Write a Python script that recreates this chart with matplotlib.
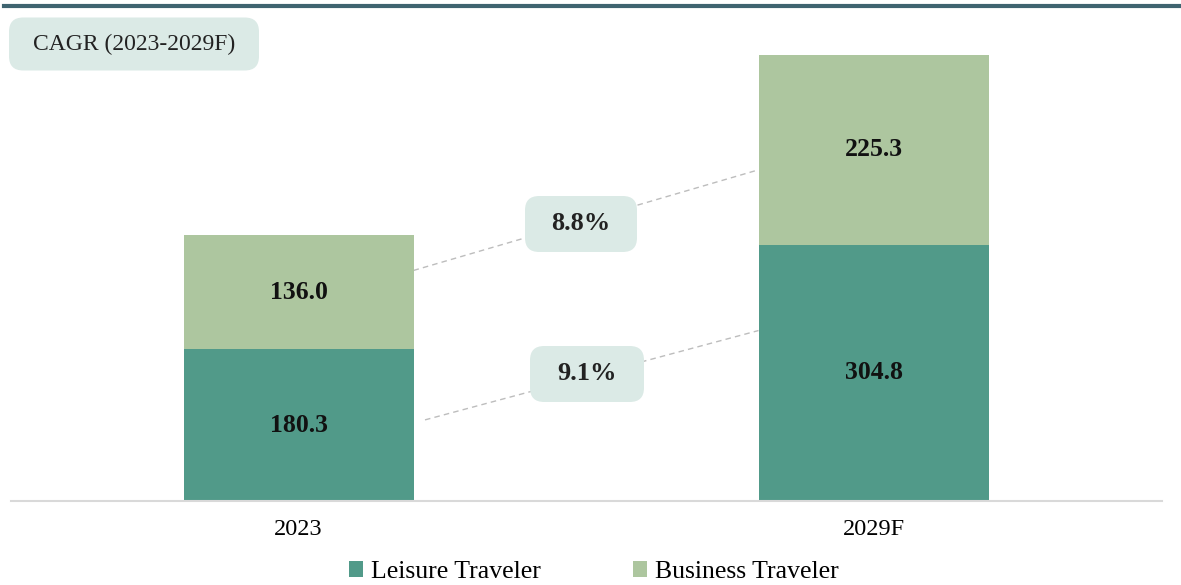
import matplotlib.pyplot as plt
from matplotlib.patches import FancyBboxPatch
from matplotlib.lines import Line2D

years = ["2023", "2029F"]
leisure = [180.3, 304.8]
business = [136.0, 225.3]
cagr_leisure = "9.1%"
cagr_business = "8.8%"

c_leisure = "#519a89"
c_business = "#adc69f"
c_box = "#dbeae6"

plt.rcParams["font.family"] = ["Liberation Serif", "DejaVu Serif"]

W, H = 1181, 585
fig = plt.figure(figsize=(W / 100, H / 100), dpi=100)

# axes spans the baseline from x=11 to x=1162 px, bottom at y=501 px
ax = fig.add_axes([11 / W, 84 / H, 1151 / W, 460 / H])
x = [0, 1]
width = 0.4
ax.bar(x, leisure, width, color=c_leisure, label="Leisure Traveler", zorder=2)
ax.bar(x, business, width, bottom=leisure, color=c_business,
       label="Business Traveler", zorder=2)

ax.set_xlim(-0.5, 1.5017)
ax.set_ylim(0, 460 / 0.841)
for s in ["top", "right", "left"]:
    ax.spines[s].set_visible(False)
ax.spines["bottom"].set_color("#d9d9d9")
ax.spines["bottom"].set_linewidth(1.5)
ax.set_yticks([])
ax.set_xticks(x)
ax.set_xticklabels(years, fontsize=17.5)
ax.tick_params(axis="x", length=0, pad=13)

for i in x:
    ax.text(i, leisure[i] / 2, f"{leisure[i]:.1f}", ha="center", va="center",
            fontsize=18.5, fontweight="bold", color="#111111", zorder=3)
    ax.text(i, leisure[i] + business[i] / 2, f"{business[i]:.1f}",
            ha="center", va="center",
            fontsize=18.5, fontweight="bold", color="#111111", zorder=3)

# dashed connectors between bars
half = width / 2
top0 = leisure[0] + business[0] * 0.69
top1 = leisure[1] + business[1] * 0.395
bot0 = leisure[0] * 0.535
bot1 = leisure[1] * 0.665
ax.plot([x[0] + half, x[1] - half], [top0, top1], ls=(0, (4, 3)),
        color="#bdbdbd", lw=1, zorder=1)
ax.plot([x[0] + half + 0.02, x[1] - half], [bot0, bot1], ls=(0, (4, 3)),
        color="#bdbdbd", lw=1, zorder=1)


def label_box(xc, yc, w, h, txt, size, weight="bold"):
    # box in figure pixels (from top)
    p = FancyBboxPatch(((xc - w / 2) / W, 1 - (yc + h / 2) / H), w / W, h / H,
                       boxstyle="round,pad=0,rounding_size=0.012",
                       transform=fig.transFigure, facecolor=c_box,
                       edgecolor="none", zorder=5, mutation_aspect=W / H)
    fig.patches.append(p)
    fig.text(xc / W, 1 - yc / H, txt, ha="center", va="center", fontsize=size,
             fontweight=weight, color="#222222", zorder=6)


label_box(581, 224, 112, 56, cagr_business, 19)
label_box(587, 374, 114, 56, cagr_leisure, 19)
label_box(134, 44, 250, 53, "CAGR (2023-2029F)", 17, weight="normal")

# top rule
fig.add_artist(Line2D([4 / W, 1], [1 - 5.5 / H] * 2, color="#3f6470", lw=3,
                      transform=fig.transFigure))

handles, labels = ax.get_legend_handles_labels()
fig.legend(handles, labels, loc="center", bbox_to_anchor=(0.503, 1 - 572 / H),
           ncol=2, frameon=False, fontsize=18.5, handlelength=0.55,
           handleheight=0.55, handletextpad=0.3, columnspacing=3.6)

fig.savefig("out.png", dpi=100)
